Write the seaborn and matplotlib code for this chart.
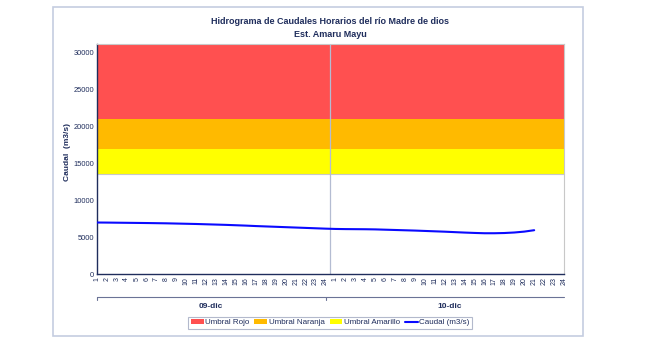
import matplotlib
matplotlib.use("Agg")
import matplotlib.pyplot as plt
import matplotlib.transforms as mtransforms
from matplotlib.patches import Rectangle, Patch
from matplotlib.lines import Line2D
import seaborn as sns
import pandas as pd
import numpy as np

# ---- data ----
days = ["09-dic", "10-dic"]
hours = list(range(1, 25))
caudal_dia1 = [7000, 6990, 6975, 6960, 6945, 6930, 6910, 6890, 6860, 6830, 6800, 6760,
               6720, 6680, 6630, 6580, 6520, 6470, 6420, 6370, 6320, 6270, 6220, 6170]
caudal_dia2 = [6130, 6110, 6100, 6090, 6070, 6030, 5990, 5950, 5910, 5860, 5810, 5760,
               5700, 5640, 5590, 5550, 5550, 5580, 5650, 5770, 5960]
umbral_amarillo = [13500, 17000]
umbral_naranja = [17000, 21000]
umbral_rojo = [21000, 31100]
y_ticks = [0, 5000, 10000, 15000, 20000, 25000, 30000]

navy = "#1f2d5c"
c_rojo = "#ff5050"
c_naranja = "#ffba00"
c_amarillo = "#ffff00"
c_linea = "#0a0aff"

sns.set_theme(style="white")
plt.rcParams["font.family"] = ["Liberation Sans", "DejaVu Sans"]

caudal = caudal_dia1 + caudal_dia2
idx = list(range(len(caudal)))
df = pd.DataFrame({"idx": idx, "caudal": caudal})

fig = plt.figure(figsize=(6.45, 3.63), dpi=100)
fig.patch.set_facecolor("white")
# outer frame
fig.patches.append(Rectangle((0.0822, 0.0744), 0.8217, 0.906, transform=fig.transFigure,
                             fill=False, edgecolor="#c5cde0", linewidth=1.2))

ax = fig.add_axes([0.1504, 0.2444, 0.7240, 0.6336])
ax.axhspan(umbral_amarillo[0], umbral_amarillo[1], color=c_amarillo, zorder=0, lw=0)
ax.axhspan(umbral_naranja[0], umbral_naranja[1], color=c_naranja, zorder=0, lw=0)
ax.axhspan(umbral_rojo[0], umbral_rojo[1], color=c_rojo, zorder=0, lw=0)
ax.axhline(umbral_amarillo[0], color="#c8c8c8", lw=0.8, zorder=0.5)

n_total = len(days) * len(hours)
ax.axvline(len(hours) - 0.5, color="#b4bcd2", lw=0.9, zorder=1)

sns.lineplot(data=df, x="idx", y="caudal", ax=ax, color=c_linea, lw=1.5, zorder=3)

ax.set_xlim(0, n_total - 1)
ax.set_ylim(0, umbral_rojo[1])
ax.set_yticks(y_ticks)
ax.set_yticklabels([str(v) for v in y_ticks], fontsize=5.4, color=navy)
ax.set_xticks(range(n_total))
ax.set_xticklabels([str(h) for _ in days for h in hours], rotation=90,
                   fontsize=5, color=navy)
ax.tick_params(axis="both", direction="in", length=2.5, width=0.7, color=navy, pad=2)
ax.set_xlabel("")
ax.set_ylabel("Caudal  (m3/s)", fontsize=6, fontweight="bold", color=navy)
ax.yaxis.set_label_coords(-0.056, 0.53)

for s in ["left", "bottom"]:
    ax.spines[s].set_color(navy)
    ax.spines[s].set_linewidth(1.0)
for s in ["top", "right"]:
    ax.spines[s].set_color("#c8c8c8")
    ax.spines[s].set_linewidth(0.8)

# day group bracket
trans = mtransforms.blended_transform_factory(ax.transData, ax.transAxes)
yb = -0.098
ax.add_line(Line2D([0, n_total - 1], [yb, yb], transform=trans, color="#6b7396",
                   lw=0.8, clip_on=False))
for xv in [0, len(hours) - 1]:
    ax.add_line(Line2D([xv, xv], [yb, yb - 0.015], transform=trans, color="#6b7396",
                       lw=0.8, clip_on=False))
for i, d in enumerate(days):
    xc = i * len(hours) + (len(hours) - 1) / 2
    ax.text(xc, -0.14, d, transform=trans, ha="center", va="center",
            fontsize=6, fontweight="bold", color=navy)

# title
fig.text(0.512, 0.94, "Hidrograma de Caudales Horarios del río Madre de dios",
         ha="center", va="center", fontsize=6.5, fontweight="bold", color=navy)
fig.text(0.512, 0.905, "Est. Amaru Mayu", ha="center", va="center",
         fontsize=6.5, fontweight="bold", color=navy)

handles = [Patch(facecolor=c_rojo, edgecolor="none"),
           Patch(facecolor=c_naranja, edgecolor="none"),
           Patch(facecolor=c_amarillo, edgecolor="none"),
           Line2D([0], [0], color=c_linea, lw=1.5)]
labels = ["Umbral Rojo", "Umbral Naranja", "Umbral Amarillo", "Caudal (m3/s)"]
leg = fig.legend(handles, labels, loc="center", bbox_to_anchor=(0.512, 0.111), ncol=4,
                 fontsize=5.8, frameon=True, fancybox=False, handlelength=1.6,
                 handleheight=0.5, handletextpad=0.2, columnspacing=0.6,
                 borderpad=0.3, labelcolor=navy)
leg.get_frame().set_edgecolor("#a0a8c0")
leg.get_frame().set_linewidth(0.8)

fig.savefig("out.png", dpi=100)
